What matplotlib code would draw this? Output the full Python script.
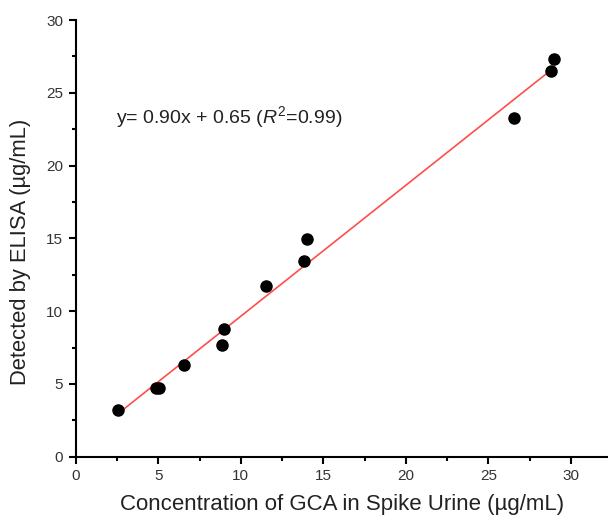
import matplotlib
matplotlib.use("Agg")
import matplotlib.pyplot as plt
import numpy as np
from matplotlib.ticker import MultipleLocator

plt.rcParams['font.family'] = ['Liberation Sans', 'DejaVu Sans']
plt.rcParams['mathtext.fontset'] = 'custom'
plt.rcParams['mathtext.rm'] = 'Liberation Sans'
plt.rcParams['mathtext.it'] = 'Liberation Sans:italic'

spiked = [2.58, 4.86, 5.05, 6.58, 8.86, 9.00, 11.55, 13.85, 13.99, 26.57, 28.79, 28.97]
detected = [3.19, 4.74, 4.72, 6.32, 7.67, 8.75, 11.72, 13.44, 14.93, 23.28, 26.51, 27.31]
slope = 0.90
intercept = 0.65
xticks = [0, 5, 10, 15, 20, 25, 30]
yticks = [0, 5, 10, 15, 20, 25, 30]

fig = plt.figure(figsize=(6.08, 5.25), dpi=100)
ax = fig.add_axes([75.7/608, (525-456.7)/525, (608-75.7)/608, (456.7-20)/525])

xs = np.array([min(spiked), max(spiked)])
ax.plot(xs, slope*xs + intercept, color='#ff4d4d', lw=1.2, zorder=2)
ax.plot(spiked, detected, 'o', color='black', markersize=8, zorder=3)

ax.set_xlim(0, 32.24)
ax.set_ylim(0, 30)
ax.set_xticks(xticks)
ax.set_yticks(yticks)
ax.xaxis.set_minor_locator(MultipleLocator(2.5))
ax.yaxis.set_minor_locator(MultipleLocator(2.5))
ax.spines['top'].set_visible(False)
ax.spines['right'].set_visible(False)
for s in ['left', 'bottom']:
    ax.spines[s].set_linewidth(1.5)
ax.tick_params(which='major', direction='out', length=5, width=1.5, labelsize=11, labelcolor='#333333', pad=4)
ax.tick_params(which='minor', direction='out', length=3, width=1.5)
ax.set_xlabel('Concentration of GCA in Spike Urine (µg/mL)', fontsize=16, color='#222222', labelpad=8)
ax.set_ylabel('Detected by ELISA (µg/mL)', fontsize=15.8, color='#222222', labelpad=8)
ax.yaxis.set_label_coords(-0.084, 0.469)

ax.text(2.45, 23.35, r'y= 0.90x + 0.65 ($\mathit{R}^2$=0.99)', fontsize=14, va='center', ha='left', color='#222222')

fig.savefig('out.png', dpi=100)
